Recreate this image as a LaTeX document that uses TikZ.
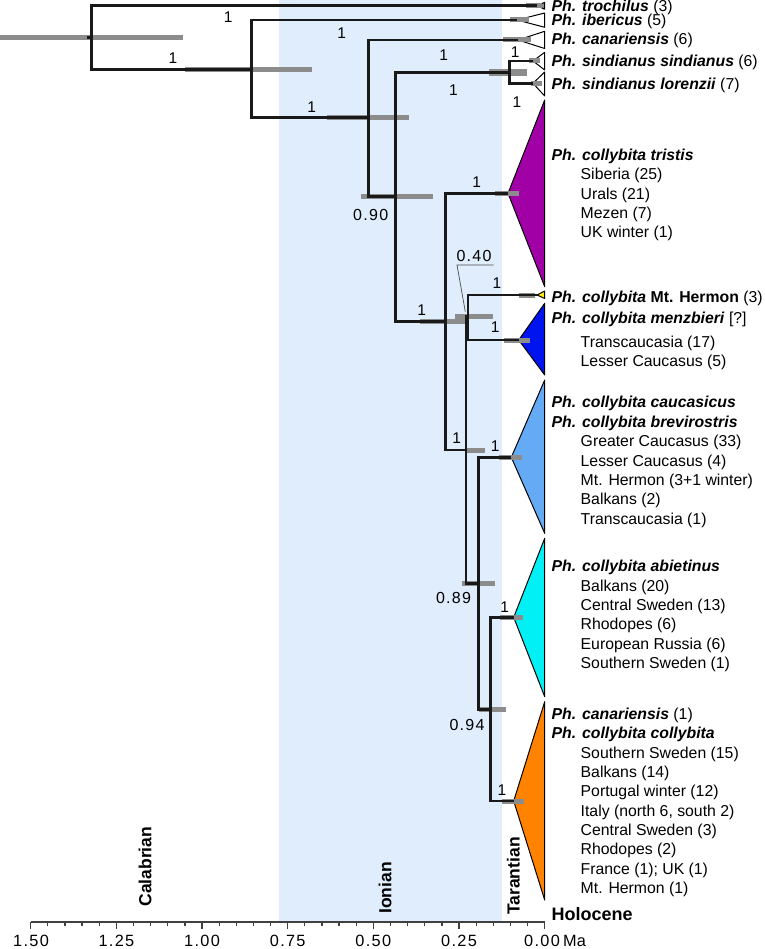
\documentclass[tikz,border=0pt]{standalone}
\usepackage{fontspec}
\setmainfont{Liberation Sans}
\newfontfamily\numfont[LetterSpace=8]{Liberation Sans}
\definecolor{band}{RGB}{223,237,252}
\definecolor{barg}{RGB}{140,140,140}
\definecolor{ctri}{RGB}{160,0,165}
\definecolor{cher}{RGB}{255,235,0}
\definecolor{cmen}{RGB}{0,20,240}
\definecolor{ccau}{RGB}{100,170,245}
\definecolor{cabi}{RGB}{0,240,245}
\definecolor{ccol}{RGB}{255,130,0}
\begin{document}
\begin{tikzpicture}[x=1pt,y=-1pt,
  br/.style={line width=2.6pt, black!90, line join=miter},
  bar/.style={line width=5pt, barg},
  tri/.style={draw=black, line width=1pt, line join=round},
  sp/.style={font=\fontsize{15.5}{18}\selectfont, inner sep=0pt},
  num/.style={font=\numfont\fontsize{16}{18}\selectfont, inner sep=0pt},
  tick/.style={anchor=base, inner sep=0pt, font=\numfont\fontsize{16.3}{18}\selectfont},
  lab/.style={anchor=base west, inner sep=0pt, font=\fontsize{15.8}{19}\selectfont},
  era/.style={rotate=90, font=\bfseries\fontsize{17.5}{20}\selectfont, inner sep=0pt},
  axisln/.style={line width=1.3pt, black!75}]
\useasboundingbox (0,0) rectangle (764,949);
% Ionian band
\fill[band] (278.7,0) rectangle (502,922);
% tree node coordinates
\coordinate (n1) at (91.7,37.7);
\coordinate (n0) at (86.5,37.7);
\coordinate (n2) at (251.7,69.3);
\coordinate (n3) at (368.3,117.7);
\coordinate (n4) at (395.7,196.7);
\coordinate (n5) at (509.3,72.7);
\coordinate (n6) at (445.3,321.7);
\coordinate (n7) at (466,450);
\coordinate (n8) at (468,316.7);
\coordinate (n9) at (478.7,583.3);
\coordinate (n10) at (490.3,709.3);
\coordinate (tTro) at (537,5.7);
\coordinate (tIbe) at (517,20);
\coordinate (tCan) at (518,40);
\coordinate (tSin) at (533,61);
\coordinate (tLor) at (533,83.3);
\coordinate (tTri) at (508,193.3);
\coordinate (tHer) at (537,295);
\coordinate (tMen) at (518.7,340);
\coordinate (tCau) at (511.3,457.3);
\coordinate (tAbi) at (513.7,617.3);
\coordinate (tCol) at (513.7,801);
% collapsed clades
\filldraw[tri, fill=barg] (tTro) -- (544.7,2.3) -- (544.7,9.3) -- cycle;
\filldraw[tri, fill=white] (tIbe) -- (544.7,13) -- (544.7,27.3) -- cycle;
\filldraw[tri, fill=white] (tCan) -- (544.7,31.3) -- (544.7,48.5) -- cycle;
\filldraw[tri, fill=white] (tSin) -- (544.7,52.3) -- (544.7,70) -- cycle;
\filldraw[tri, fill=white] (tLor) -- (544.7,72) -- (544.7,96) -- cycle;
\filldraw[tri, fill=ctri] (tTri) -- (544.7,100) -- (544.7,286.7) -- cycle;
\filldraw[tri, fill=cher] (tHer) -- (544.7,291) -- (544.7,298.5) -- cycle;
\filldraw[tri, fill=cmen] (tMen) -- (544.7,303.3) -- (544.7,375) -- cycle;
\filldraw[tri, fill=ccau] (tCau) -- (544.7,380) -- (544.7,533.3) -- cycle;
\filldraw[tri, fill=cabi] (tAbi) -- (544.7,538.3) -- (544.7,696.7) -- cycle;
\filldraw[tri, fill=ccol] (tCol) -- (544.7,701.7) -- (544.7,900) -- cycle;
% HPD bars
\draw[bar] (0,37.7) -- (182.7,37.7);
\draw[bar] (185,69.3) -- (311.7,69.3);
\draw[bar] (326.7,118) -- (409,118);
\draw[bar] (360.7,196.7) -- (432.7,196.7);
\draw[bar, line width=6.5pt] (489,72.7) -- (527,72.7);
\draw[bar] (526,5.7) -- (541.7,5.7);
\draw[bar] (510,20) -- (529,20);
\draw[bar] (503,40) -- (531,40);
\draw[bar] (529,61) -- (540,61);
\draw[bar] (531,83.3) -- (542,83.3);
\draw[bar] (495.3,193.3) -- (519.3,193.3);
\draw[bar] (420,321.7) -- (466.7,321.7);
\draw[bar] (455,316.7) -- (493.3,316.7);
\draw[bar] (518.7,295) -- (535.3,295);
\draw[bar] (503.7,340) -- (530.3,340);
\draw[bar] (466,450) -- (485,450);
\draw[bar] (498.7,457.3) -- (522,457.3);
\draw[bar] (462,583.3) -- (495.3,583.3);
\draw[bar] (478.7,709.3) -- (506,709.3);
\draw[bar] (500.3,617.3) -- (522.7,617.3);
\draw[bar] (502,801) -- (523.7,801);
% branches
\draw[br] (n0) -- (n1);
\draw[br] (tTro) -| (n1) |- (n2);
\draw[br] (tIbe) -| (n2) |- (n3);
\draw[br] (tCan) -| (n3) |- (n4);
\draw[br] (tSin) -| (n5) |- (tLor);
\draw[br] (n5) -| (n4) |- (n6);
\draw[br] (tTri) -| (n6) |- (n7);
\draw[br] (n8) -| (n7) |- (n9);
\draw[br] (tHer) -| (n8) |- (tMen);
\draw[br] (tCau) -| (n9) |- (n10);
\draw[br] (tAbi) -| (n10) |- (tCol);
% support values
\node[sp] (s1) at (228.3,17) {1};
\node[sp] (s2) at (173,57.7) {1};
\node[sp] (s3) at (341.7,32.7) {1};
\node[sp] (s4) at (311.7,106.7) {1};
\node[sp] (s5) at (443.7,55) {1};
\node[sp] (s6) at (515.3,51.7) {1};
\node[sp] (s7) at (453.5,90) {1};
\node[sp] (s8) at (517,101.7) {1};
\node[sp] (s9) at (476.8,181.7) {1};
\node[sp] (s10) at (497,283.3) {1};
\node[sp] (s11) at (421.7,310) {1};
\node[sp] (s12) at (495.3,326.7) {1};
\node[sp] (s13) at (456.7,438.3) {1};
\node[sp] (s14) at (495.3,446) {1};
\node[sp] (s15) at (504.7,606.7) {1};
\node[sp] (s16) at (502,790) {1};
\node[num] (p90) at (370.7,215) {0.90};
\node[num] (p40) at (474,255.8) {0.40};
\node[num] (p89) at (453.5,598.3) {0.89};
\node[num] (p94) at (467,725) {0.94};
\coordinate (q40a) at (457,265);
\coordinate (q40b) at (493.7,265);
\coordinate (q40c) at (465.3,311.7);
\draw[line width=0.7pt, black!70] (q40b) -- (q40a) -- (q40c);
% taxon labels
\node[lab] (L1) at (551.5,11.3) {\textbf{\textit{Ph. trochilus}} (3)};
\node[lab] (L2) at (551.5,26) {\textbf{\textit{Ph. ibericus}} (5)};
\node[lab] (L3) at (551.5,45) {\textbf{\textit{Ph. canariensis}} (6)};
\node[lab] (L4) at (551.5,66.7) {\textbf{\textit{Ph. sindianus sindianus}} (6)};
\node[lab] (L5) at (551.5,90) {\textbf{\textit{Ph. sindianus lorenzii}} (7)};
\node[lab] (L6) at (551.5,160.7) {\textbf{\textit{Ph. collybita tristis}}};
\node[lab] (L7) at (580.5,180) {Siberia (25)};
\node[lab] (L8) at (580.5,199.3) {Urals (21)};
\node[lab] (L9) at (580.5,218.6) {Mezen (7)};
\node[lab] (L10) at (580.5,238) {UK winter (1)};
\node[lab] (L11) at (551.5,302) {\textbf{\textit{Ph. collybita} Mt. Hermon} (3)};
\node[lab] (L12) at (551.5,323.8) {\textbf{\textit{Ph. collybita menzbieri}} [?]};
\node[lab] (L13) at (580.5,347.8) {Transcaucasia (17)};
\node[lab] (L14) at (580.5,366.5) {Lesser Caucasus (5)};
\node[lab] (L15) at (551.5,407.5) {\textbf{\textit{Ph. collybita caucasicus}}};
\node[lab] (L16) at (551.5,427) {\textbf{\textit{Ph. collybita brevirostris}}};
\node[lab] (L17) at (580.5,446.6) {Greater Caucasus (33)};
\node[lab] (L18) at (580.5,466) {Lesser Caucasus (4)};
\node[lab] (L19) at (580.5,485.4) {Mt. Hermon (3+1 winter)};
\node[lab] (L20) at (580.5,504.8) {Balkans (2)};
\node[lab] (L21) at (580.5,524.2) {Transcaucasia (1)};
\node[lab] (L22) at (551.5,571.5) {\textbf{\textit{Ph. collybita abietinus}}};
\node[lab] (L23) at (580.5,591) {Balkans (20)};
\node[lab] (L24) at (580.5,610.3) {Central Sweden (13)};
\node[lab] (L25) at (580.5,629.6) {Rhodopes (6)};
\node[lab] (L26) at (580.5,649) {European Russia (6)};
\node[lab] (L27) at (580.5,668.3) {Southern Sweden (1)};
\node[lab] (L28) at (551.5,719.3) {\textbf{\textit{Ph. canariensis}} (1)};
\node[lab] (L29) at (551.5,738.7) {\textbf{\textit{Ph. collybita collybita}}};
\node[lab] (L30) at (580.5,758) {Southern Sweden (15)};
\node[lab] (L31) at (580.5,777.3) {Balkans (14)};
\node[lab] (L32) at (580.5,796.6) {Portugal winter (12)};
\node[lab] (L33) at (580.5,816) {Italy (north 6, south 2)};
\node[lab] (L34) at (580.5,835.3) {Central Sweden (3)};
\node[lab] (L35) at (580.5,854.6) {Rhodopes (2)};
\node[lab] (L36) at (580.5,874) {France (1); UK (1)};
\node[lab] (L37) at (580.5,893.3) {Mt. Hermon (1)};
% epochs
\node[era] (e1) at (145,866.7) {Calabrian};
\node[era] (e2) at (385,888) {Ionian};
\node[era] (e3) at (513.3,876) {Tarantian};
\node[anchor=base west, inner sep=0pt, font=\bfseries\fontsize{18}{20}\selectfont] (e4) at (551.5,920) {Holocene};
% time axis
\coordinate (ax0) at (30.7,922);
\coordinate (ax1) at (544.7,922);
\draw[axisln] (ax0) -- (ax1);
\foreach \i in {0,...,30}{
  \pgfmathtruncatemacro\m{mod(\i,5)}
  \pgfmathsetmacro\xx{544.7-17.133*\i}
  \ifnum\m=0
    \draw[axisln] (\xx,922) -- (\xx,928.5);
  \else
    \draw[axisln] (\xx,922) -- (\xx,925.5);
  \fi
}
\node[tick] (a1) at (31,946) {1.50};
\node[tick] (a2) at (116.4,946) {1.25};
\node[tick] (a3) at (202,946) {1.00};
\node[tick] (a4) at (287.7,946) {0.75};
\node[tick] (a5) at (373.3,946) {0.50};
\node[tick] (a6) at (459,946) {0.25};
\node[tick] (a7) at (542,946) {0.00};
\node[anchor=base west, inner sep=0pt, font=\fontsize{16.3}{18}\selectfont] (a8) at (563,946) {Ma};
\end{tikzpicture}
\end{document}
